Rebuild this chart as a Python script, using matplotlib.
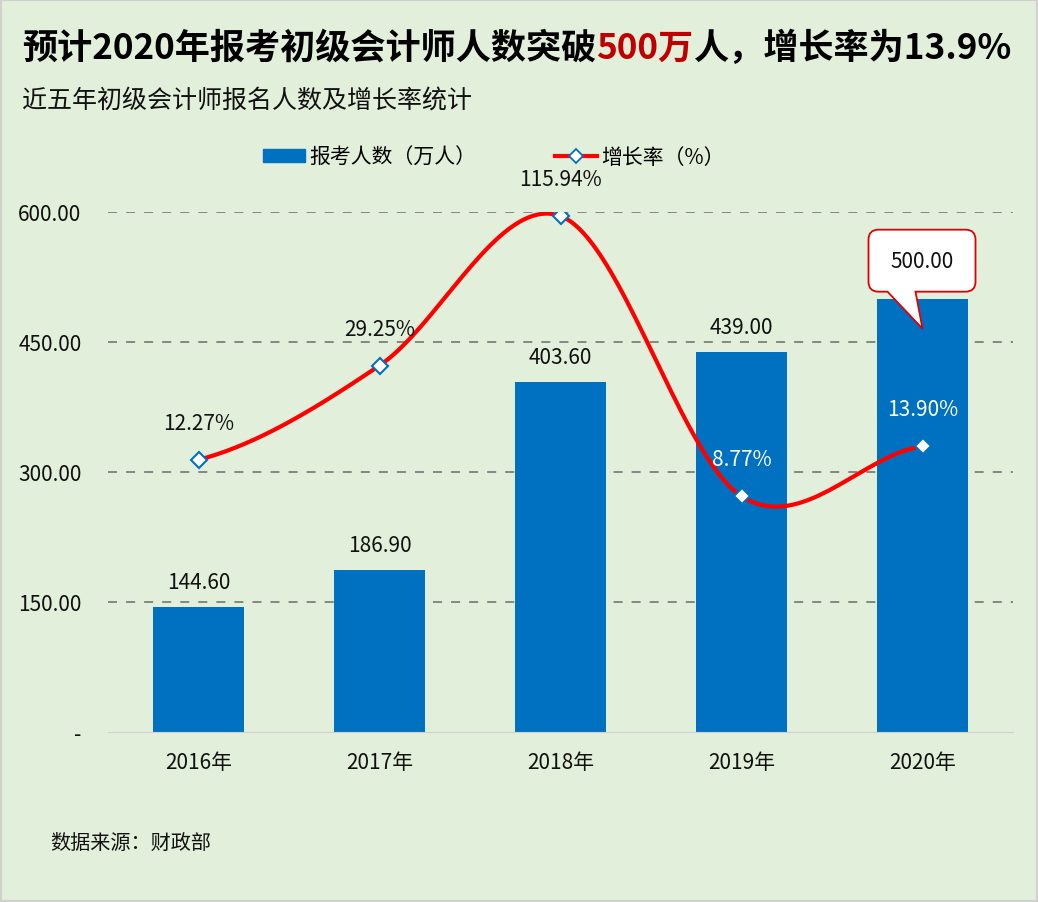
import numpy as np
import matplotlib
matplotlib.use('Agg')
import matplotlib.pyplot as plt
from matplotlib.patches import Patch, PathPatch, Rectangle
from matplotlib.lines import Line2D
from matplotlib.path import Path
from matplotlib.ticker import FuncFormatter

plt.rcParams['font.family'] = ['Noto Sans CJK SC', 'DejaVu Sans']

# data
years = ['2016年', '2017年', '2018年', '2019年', '2020年']
applicants = [144.60, 186.90, 403.60, 439.00, 500.00]   # 万人
growth = [12.27, 29.25, 115.94, 8.77, 13.90]            # %

BG = '#E2EFDA'
BLUE = '#0070C0'
RED = '#FF0000'
FS = 15

fig = plt.figure(figsize=(10.38, 9.03), dpi=100, facecolor=BG)
ax = fig.add_axes([108 / 1038, 1 - 733 / 903, 905 / 1038, 520 / 903])
ax.set_facecolor(BG)

x = np.arange(len(years))
ax.bar(x, applicants, width=0.5, color=BLUE, zorder=2)
ax.set_xlim(-0.5, len(years) - 0.5)
ax.set_ylim(0, 600)
ax.set_yticks([0, 150, 300, 450, 600])
ax.yaxis.set_major_formatter(FuncFormatter(lambda v, p: '-' if v == 0 else f'{v:.2f}'))
ax.set_xticks(x)
ax.set_xticklabels(years)
ax.tick_params(axis='both', length=0, labelsize=FS, colors='#111111')
ax.tick_params(axis='y', pad=19)
ax.tick_params(axis='x', pad=14)
for s in ['top', 'right', 'left']:
    ax.spines[s].set_visible(False)
ax.spines['bottom'].set_color('#D0D0D0')
for v in [150, 300, 450, 600]:
    ax.axhline(v, color='#7F7F7F', lw=1.3, ls=(0, (5, 5)), zorder=1)

# bar labels (last one goes in the callout)
for i, v in enumerate(applicants[:-1]):
    ax.annotate(f'{v:.2f}', (i, v), xytext=(0, 25), textcoords='offset pixels',
                ha='center', va='center', fontsize=FS, color='#111111')

# growth line on hidden log axis
ax2 = ax.twinx()
ax2.set_yscale('log')
ax2.set_ylim(1, 120.3)
ax2.axis('off')

# smooth the line like excel (catmull-rom in log space)
ly = np.log10(growth)
n = len(ly)
m = np.zeros(n)
for i in range(n):
    a = ly[max(i - 1, 0)]
    b = ly[min(i + 1, n - 1)]
    m[i] = (b - a) / 2
sx, sy = [], []
t = np.linspace(0, 1, 40)
for i in range(n - 1):
    h00 = 2 * t**3 - 3 * t**2 + 1
    h10 = t**3 - 2 * t**2 + t
    h01 = -2 * t**3 + 3 * t**2
    h11 = t**3 - t**2
    sx.extend(i + t)
    sy.extend(h00 * ly[i] + h10 * m[i] + h01 * ly[i + 1] + h11 * m[i + 1])
ax2.plot(sx, 10 ** np.array(sy), color=RED, lw=3, solid_capstyle='round', zorder=3)
ax2.plot(x, growth, ls='none', marker='D', ms=8, mfc='white', mec=BLUE, mew=1.5, zorder=4)

for i, g in enumerate(growth):
    col = 'white' if i >= 3 else '#111111'
    ax2.annotate(f'{g:.2f}%', (i, g), xytext=(0, 37), textcoords='offset pixels',
                 ha='center', va='center', fontsize=FS, color=col)

# callout for 2020
fig.canvas.draw()
cx, cy = ax.transData.transform((x[-1], applicants[-1]))
L, R, T, B, r = -54, 53, 69, 7, 10
verts = [
    (cx + L + r, cy + T), (cx + R - r, cy + T), (cx + R, cy + T), (cx + R, cy + T - r),
    (cx + R, cy + B + r), (cx + R, cy + B), (cx + R - r, cy + B),
    (cx - 7, cy + B), (cx, cy - 30), (cx - 35, cy + B),
    (cx + L + r, cy + B), (cx + L, cy + B), (cx + L, cy + B + r),
    (cx + L, cy + T - r), (cx + L, cy + T), (cx + L + r, cy + T),
]
codes = [Path.MOVETO, Path.LINETO, Path.CURVE3, Path.CURVE3,
         Path.LINETO, Path.CURVE3, Path.CURVE3,
         Path.LINETO, Path.LINETO, Path.LINETO,
         Path.LINETO, Path.CURVE3, Path.CURVE3,
         Path.LINETO, Path.CURVE3, Path.CURVE3]
callout = PathPatch(Path(verts, codes), fc='white', ec='#E00000', lw=1.3,
                    transform=None, zorder=5)
fig.patches.append(callout)
fig.text((cx - 0.5) / 1038, (cy + (T + B) / 2) / 903, f'{applicants[-1]:.2f}',
         ha='center', va='center', fontsize=FS, color='#111111', zorder=6)

# legend
handles = [Patch(color=BLUE, label='报考人数（万人）'),
           Line2D([], [], color=RED, lw=3, marker='D', ms=7, mfc='white', mec=BLUE,
                  mew=1.3, label='增长率（%）')]
fig.legend(handles=handles, loc='center', bbox_to_anchor=(494 / 1038, 1 - 158 / 903),
           ncol=2, frameon=False, fontsize=FS, handlelength=2.0, handleheight=0.55,
           handletextpad=0.2, columnspacing=3.8)

# title: black / red / black
TS = 25.3
t1 = fig.text(22 / 1038, 1 - 48 / 903, '预计2020年报考初级会计师人数突破', fontsize=TS,
              fontweight='bold', va='center', ha='left')
t2 = ax.annotate('500万', xy=(1, 0.5), xycoords=t1, va='center', ha='left',
                 fontsize=TS, fontweight='bold', color='#C00000')
ax.annotate('人，增长率为13.9%', xy=(1, 0.5), xycoords=t2, va='center', ha='left',
            fontsize=TS, fontweight='bold')
fig.text(22 / 1038, 1 - 101 / 903, '近五年初级会计师报名人数及增长率统计', fontsize=18,
         va='center', ha='left', color='#111111')
fig.text(50 / 1038, 1 - 843 / 903, '数据来源：财政部', fontsize=14.5, va='center', ha='left',
         color='#111111')

fig.patches.append(Rectangle((0, 0), 1, 1, transform=fig.transFigure, fill=False,
                             ec='#D0D0D0', lw=3))

fig.savefig('out.png', dpi=100, facecolor=BG)
